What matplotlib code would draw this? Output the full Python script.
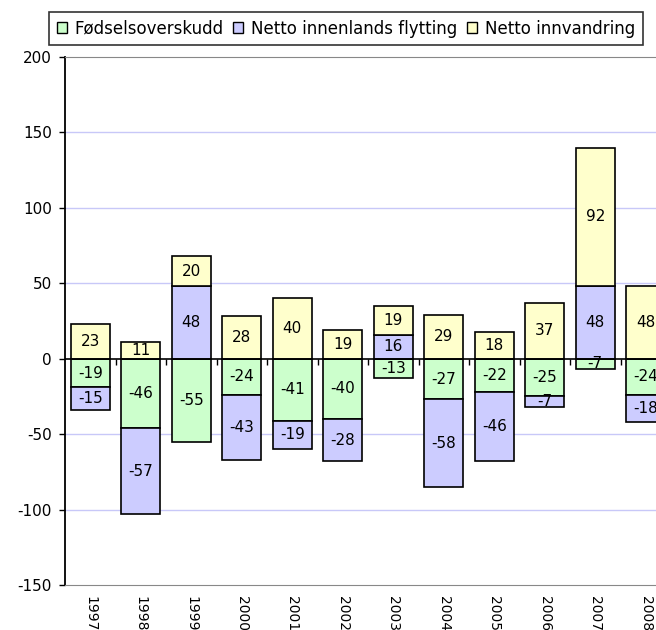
import numpy as np
import matplotlib.pyplot as plt
from matplotlib.patches import Patch

plt.rcParams['font.family'] = ['DejaVu Sans']
plt.rcParams['axes.unicode_minus'] = False

# data
years = ['1997', '1998', '1999', '2000', '2001', '2002',
         '2003', '2004', '2005', '2006', '2007', '2008']
fodsel = [-19, -46, -55, -24, -41, -40, -13, -27, -22, -25, -7, -24]
innenlands = [-15, -57, 48, -43, -19, -28, 16, -58, -46, -7, 48, -18]
innvandring = [23, 11, 20, 28, 40, 19, 19, 29, 18, 37, 92, 48]

series = [
    ('Fødselsoverskudd', fodsel, '#CCFFCC'),
    ('Netto innenlands flytting', innenlands, '#CCCCFF'),
    ('Netto innvandring', innvandring, '#FFFFCC'),
]

fig = plt.figure(figsize=(6.56, 6.30), dpi=100)
# plot area runs past the right edge, like the cropped original
ax = fig.add_axes([65 / 656, 45 / 630, 606 / 656, 528 / 630])

x = np.arange(len(years))
pos_base = np.zeros(len(years))
neg_base = np.zeros(len(years))

for name, vals, col in series:
    vals = np.array(vals, dtype=float)
    bottom = np.where(vals >= 0, pos_base, neg_base)
    bars = ax.bar(x, vals, width=0.78, bottom=bottom, color=col,
                  edgecolor='black', linewidth=1.2, label=name, zorder=3)
    for b, v in zip(bars, vals):
        ax.text(b.get_x() + b.get_width() / 2, b.get_y() + b.get_height() / 2,
                f'{int(v)}', ha='center', va='center', fontsize=11, zorder=4)
    pos_base = pos_base + np.where(vals >= 0, vals, 0)
    neg_base = neg_base + np.where(vals < 0, vals, 0)

ax.set_xlim(-0.5, len(years) - 0.5)
ax.set_ylim(-150, 200)
ax.set_yticks(np.arange(-150, 201, 50))
ax.tick_params(axis='y', direction='out', length=4.5, width=1, pad=5, labelsize=11)
ax.set_xticks(x)
ax.set_xticklabels(years, rotation=-90, fontsize=10, va='top')
ax.tick_params(axis='x', length=0, pad=8)

for yv in [-100, -50, 50, 100, 150]:
    ax.axhline(yv, color='#C8C8F8', linewidth=1, zorder=1)
ax.axhline(0, color='black', linewidth=1.2, zorder=5)

ax.spines['left'].set_linewidth(1.3)
ax.spines['right'].set_visible(False)
ax.spines['top'].set_color('#888888')
ax.spines['bottom'].set_color('#888888')

# small category ticks on the zero line
sec = ax.secondary_xaxis(150 / 350)
sec.set_xticks(np.arange(0.5, len(years) - 0.5, 1))
sec.set_xticklabels([])
sec.tick_params(direction='out', length=4, width=1)
sec.spines['bottom'].set_visible(False)

handles = [Patch(facecolor=c, edgecolor='black', label=n) for n, _, c in series]
leg = fig.legend(handles=handles, loc='upper left', ncol=3,
                 bbox_to_anchor=(49 / 656, 1 - 12 / 630), borderaxespad=0,
                 fontsize=12,
                 frameon=True, fancybox=False, edgecolor='black',
                 handlelength=0.6, handleheight=0.6, handletextpad=0.5,
                 columnspacing=0.55, borderpad=0.45)
leg.get_frame().set_linewidth(1.2)

plt.savefig('out.png', dpi=100)
